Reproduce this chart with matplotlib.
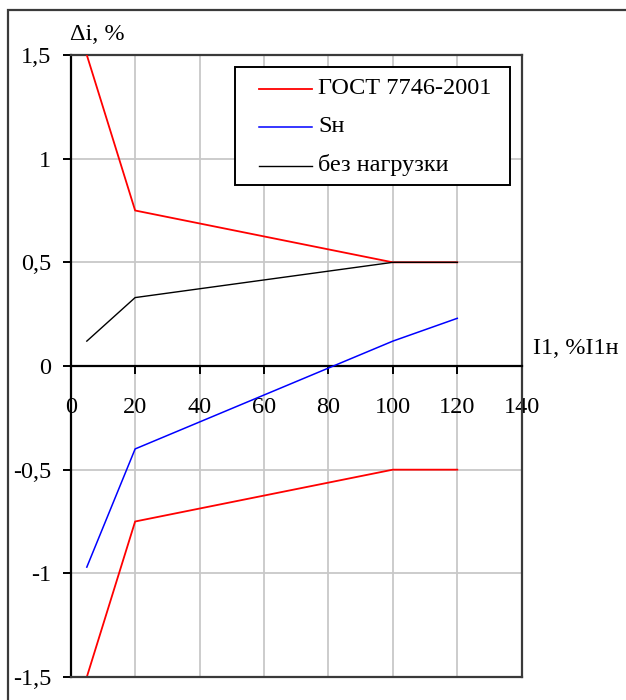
import matplotlib
matplotlib.use("Agg")
import matplotlib.pyplot as plt
from matplotlib.patches import Rectangle
from matplotlib.lines import Line2D

# Load current (% of rated) and ratio error limits / measured error
x_gost = [5, 20, 100, 120]
gost_upper = [1.5, 0.75, 0.5, 0.5]
gost_lower = [-1.5, -0.75, -0.5, -0.5]

x_meas = [5, 20, 100, 120]
err_rated = [-0.97, -0.40, 0.12, 0.23]
err_noload = [0.12, 0.33, 0.50, 0.50]

x_ticks = [0, 20, 40, 60, 80, 100, 120, 140]
y_ticks = [-1.5, -1.0, -0.5, 0.0, 0.5, 1.0, 1.5]
y_tick_labels = ["-1,5", "-1", "-0,5", "0", "0,5", "1", "1,5"]

series_names = ["ГОСТ 7746-2001", "Sн", "без нагрузки"]
series_colors = ["#ff0000", "#0000ff", "#000000"]

W, H = 626, 700
plt.rcParams["font.family"] = ["Liberation Serif", "DejaVu Serif"]
FS = 17.5
DARK = "#3a3a3a"
GRID = "#c8c8c8"

fig = plt.figure(figsize=(W / 100, H / 100), dpi=100)
ax = fig.add_axes([70.7 / W, 1 - 677 / H, (521.7 - 70.7) / W, (677 - 55) / H])


def fx(px):
    return px / W


def fy(py):
    return 1 - py / H


# outer chart frame
fig.patches.append(Rectangle((fx(8), -0.1), 1.2, fy(10) + 0.1,
                             transform=fig.transFigure, fill=False,
                             edgecolor=DARK, linewidth=1.6))

ax.set_xlim(0, 140)
ax.set_ylim(-1.5, 1.5)

ax.plot(x_gost, gost_upper, color=series_colors[0], lw=1.3, zorder=3)
ax.plot(x_gost, gost_lower, color=series_colors[0], lw=1.3, zorder=3)
ax.plot(x_meas, err_rated, color=series_colors[1], lw=1.1, zorder=3)
ax.plot(x_meas, err_noload, color=series_colors[2], lw=1.0, zorder=4)

for s in ["top", "right"]:
    ax.spines[s].set_color(DARK)
    ax.spines[s].set_linewidth(1.6)
ax.spines["left"].set_color("black")
ax.spines["left"].set_linewidth(1.6)
ax.spines["bottom"].set_position(("data", 0))
ax.spines["bottom"].set_color("black")
ax.spines["bottom"].set_linewidth(1.6)
ax.axhline(-1.5, color=DARK, lw=1.6, clip_on=False, zorder=5)

ax.set_xticks(x_ticks)
ax.set_xticklabels([str(v) for v in x_ticks])
ax.set_yticks(y_ticks)
ax.set_yticklabels(y_tick_labels)

ax.grid(True, color=GRID, lw=1.3, zorder=0)
ax.set_axisbelow(True)

ax.tick_params(axis="x", direction="out", length=6, width=1.4, pad=16,
               labelsize=FS)
ax.tick_params(axis="y", direction="out", length=6, width=1.4, pad=8,
               labelsize=FS)

fig.text(fx(70), fy(35), "Δi, %", fontsize=FS, ha="left", va="center")
fig.text(fx(533), fy(349), "I1, %I1н", fontsize=FS, ha="left", va="center")

# legend box
fig.patches.append(Rectangle((fx(235), fy(185)), fx(510) - fx(235),
                             fy(67) - fy(185), transform=fig.transFigure,
                             facecolor="white", edgecolor="black",
                             linewidth=1.4, zorder=10))
row_y = [89, 127, 166]
row_lw = [1.3, 1.1, 1.0]
for name, color, y, lw in zip(series_names, series_colors, row_y, row_lw):
    fig.lines.append(Line2D([fx(259), fx(312)], [fy(y), fy(y)],
                            transform=fig.transFigure, color=color, lw=lw,
                            zorder=11))
    fig.text(fx(318), fy(y + 5.5), name, fontsize=FS, ha="left",
             va="baseline", zorder=11)

fig.savefig("out.png", dpi=100)
